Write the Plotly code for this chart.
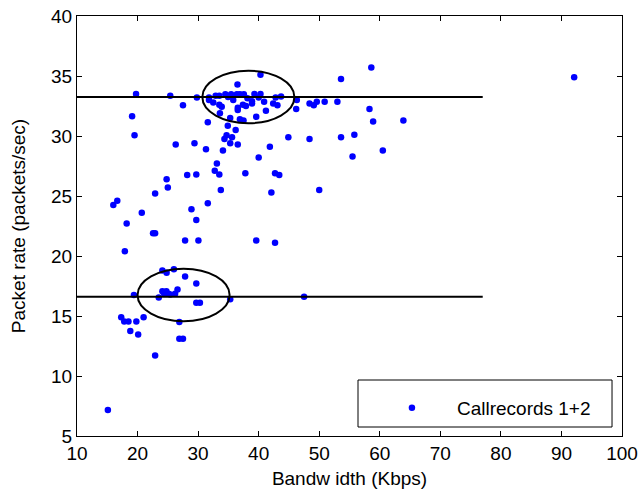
import plotly.graph_objects as go

# Bandwidth (Kbps) and packet rate (packets/sec) per call record
bandwidth = [
    92.1, 63.9, 58.6, 53.6, 58.3, 58.9, 60.5, 55.8, 55.5, 53.6,
    53.0, 50.9, 49.6, 49.1, 48.4, 48.4, 44.9, 46.2, 46.3, 50.0,
    41.85, 40.0, 42.7, 43.4, 42.1, 39.6, 42.7, 47.5,
    40.3, 36.5, 39.3, 40.3, 40.0, 38.9, 38.9, 40.9, 42.8, 43.7,
    42.4, 43.1, 41.2, 39.6, 29.8, 31.8, 32.9, 33.5, 34.5, 35.45,
    36.4, 36.9, 37.55, 31.8, 33.5, 33.9, 33.6, 35.3, 36.55, 36.55,
    37.4, 38.15, 36.9, 37.5, 34.9, 34.95, 35.8, 32.5, 37.9,
    19.75, 25.4, 27.5, 19.1, 19.5, 31.6, 36.2, 34.7, 35.6, 34.35,
    35.3, 36.55, 29.4, 31.3, 34.1, 26.3, 33.1, 32.75, 33.5, 29.7,
    37.8, 28.2, 24.8, 25.0, 33.75, 31.6, 28.9, 29.7, 30.05, 27.85,
    22.56, 22.9, 22.9, 16.0, 16.65, 20.7, 18.2, 17.9,
    24.1, 24.8, 26.0, 27.85, 29.7, 19.4, 24.1, 24.76, 24.4, 25.1,
    25.4, 26.2, 26.6, 23.5, 29.7, 30.3, 35.3, 17.3, 17.8, 18.5,
    19.8, 21.0, 26.9, 18.8, 20.1, 26.9, 27.5, 22.9, 15.1,
]
packet_rate = [
    34.9, 31.3, 35.7, 34.75, 32.25, 31.2, 28.8, 30.1, 28.3, 29.9,
    32.86, 32.86, 32.86, 32.56, 32.7, 29.75, 29.9, 32.25, 33.0, 25.5,
    29.1, 28.2, 26.9, 26.75, 25.3, 21.3, 21.1, 16.6,
    35.1, 34.3, 33.5, 33.5, 33.2, 32.7, 32.9, 32.86, 33.2, 33.3,
    32.7, 32.56, 32.1, 31.6, 33.2, 33.2, 33.36, 33.36, 33.47, 33.47,
    33.47, 33.47, 33.47, 33.0, 32.6, 32.44, 31.9, 31.5, 32.36, 32.17,
    32.6, 33.14, 31.4, 31.3, 30.85, 33.25, 33.0, 32.8, 32.5,
    33.5, 33.36, 32.56, 31.64, 30.06, 31.14, 30.5, 30.06, 29.9, 29.75,
    29.4, 29.3, 29.4, 28.9, 28.8, 29.3, 27.7, 27.1, 26.8, 26.8,
    26.9, 26.75, 26.4, 25.7, 25.5, 24.4, 23.9, 23.0, 21.3, 21.3,
    21.9, 21.9, 25.2, 24.25, 24.6, 23.6, 22.7, 20.4,
    18.8, 18.6, 18.9, 18.3, 17.7, 16.75, 17.06, 17.06, 16.86, 16.86,
    16.8, 16.86, 17.2, 16.55, 16.1, 16.1, 16.4, 14.9, 14.55, 14.55,
    14.55, 14.9, 14.5, 13.75, 13.45, 13.1, 13.1, 11.7, 7.17,
]

# Reference levels and the two marked clusters
levels = [33.25, 16.6]
level_span = [10, 77]
cluster_x = [38.3, 27.6]
cluster_y = [33.25, 16.75]
cluster_rx = 7.6
cluster_ry = 2.19

x_ticks = [10, 20, 30, 40, 50, 60, 70, 80, 90, 100]
y_ticks = [5, 10, 15, 20, 25, 30, 35, 40]

FONT = "Liberation Sans, Arial, sans-serif"

fig = go.Figure()

fig.add_trace(go.Scatter(
    x=bandwidth, y=packet_rate, mode="markers",
    name="Callrecords 1+2",
    marker=dict(color="#0000ff", size=6.5, line=dict(width=0)),
))

for lv in levels:
    fig.add_trace(go.Scatter(
        x=level_span, y=[lv, lv], mode="lines",
        line=dict(color="black", width=2), showlegend=False,
        hoverinfo="skip",
    ))

for cx, cy in zip(cluster_x, cluster_y):
    fig.add_shape(
        type="circle", xref="x", yref="y",
        x0=cx - cluster_rx, x1=cx + cluster_rx,
        y0=cy - cluster_ry, y1=cy + cluster_ry,
        line=dict(color="black", width=2),
    )

# Legend frame
fig.add_shape(
    type="rect", xref="paper", yref="paper",
    x0=0.5156, x1=0.9817, y0=0.0214, y1=0.1333,
    line=dict(color="black", width=1), fillcolor="white", layer="above",
)

axis_common = dict(
    showline=True, linecolor="black", linewidth=1, mirror="ticks",
    ticks="inside", ticklen=5, tickcolor="black", tickwidth=1,
    showgrid=False, zeroline=False, automargin=False,
    tickfont=dict(family=FONT, size=19, color="black"),
)

fig.update_xaxes(
    range=[10, 100], tickvals=x_ticks,
    title=dict(text="Bandw idth (Kbps)", standoff=8,
               font=dict(family=FONT, size=19, color="black")),
    **axis_common,
)
fig.update_yaxes(
    range=[5, 40], tickvals=y_ticks,
    title=dict(text="Packet rate (packets/sec)", standoff=20,
               font=dict(family=FONT, size=19, color="black")),
    **axis_common,
)

fig.update_layout(
    width=639, height=493,
    margin=dict(l=77, r=17, t=16, b=57),
    paper_bgcolor="white", plot_bgcolor="white",
    showlegend=True,
    legend=dict(
        x=0.532, y=0.0667, xanchor="left", yanchor="middle",
        bgcolor="rgba(0,0,0,0)", borderwidth=0, itemwidth=80,
        font=dict(family=FONT, size=19, color="black"),
    ),
)

fig.write_html("out.html")
